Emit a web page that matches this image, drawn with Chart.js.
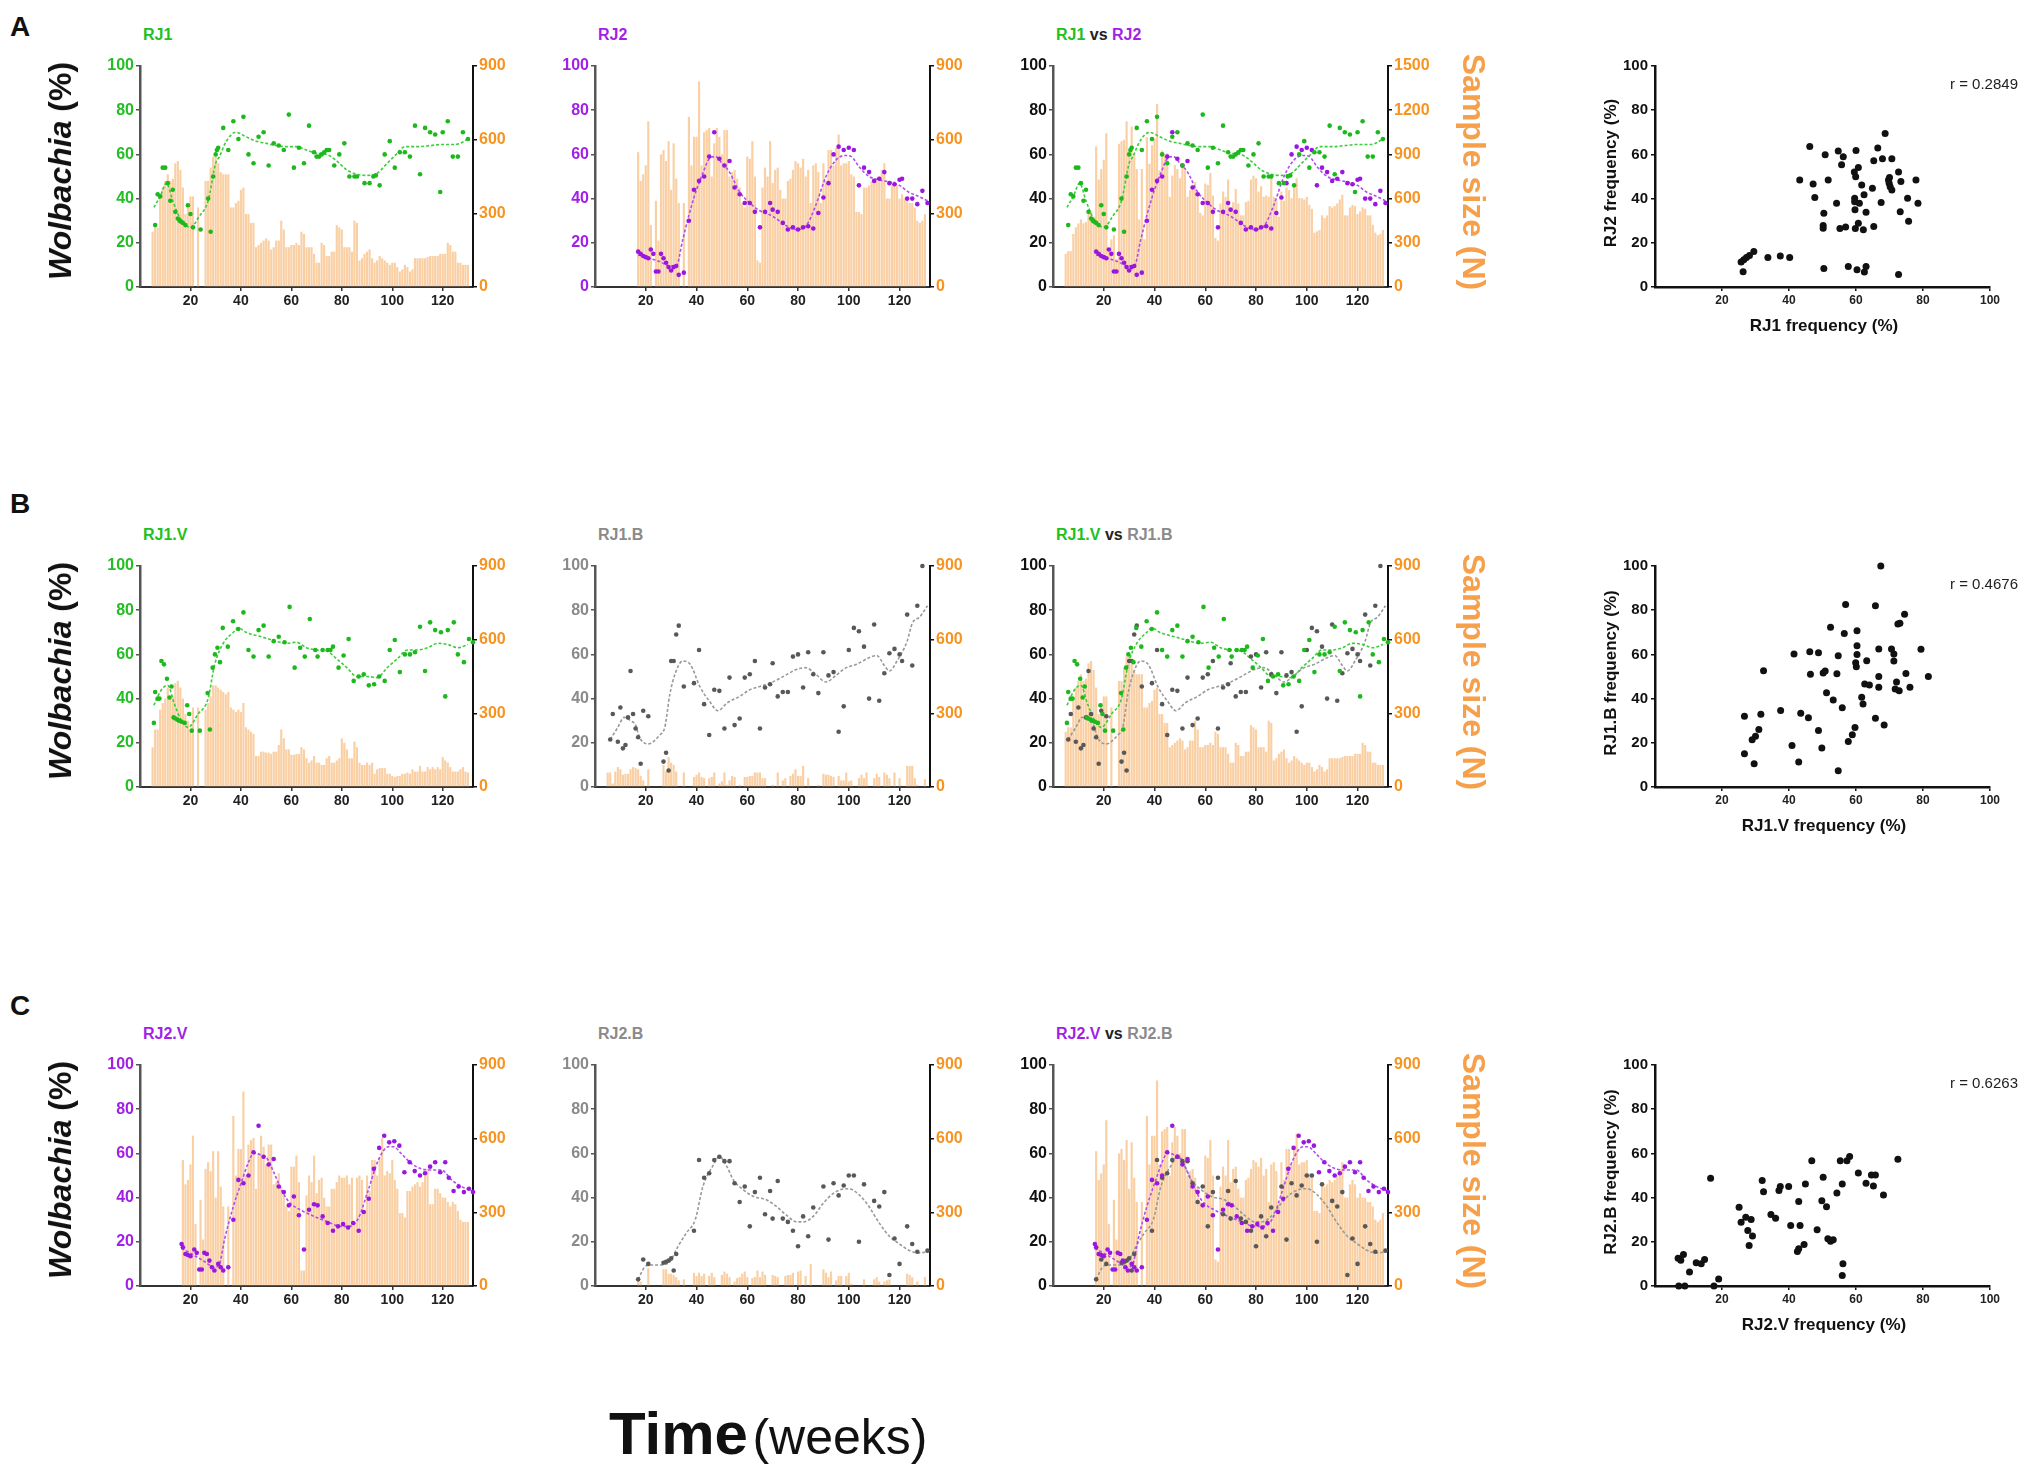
<!DOCTYPE html>
<html>
<head>
<meta charset="utf-8">
<title>Wolbachia frequency over time</title>
<script src="https://cdn.jsdelivr.net/npm/chart.js@4.4.1/dist/chart.umd.min.js"></script>
<style>
  html, body { margin: 0; padding: 0; background: #fff; }
  #fig { position: relative; width: 2033px; height: 1471px; overflow: hidden; background: #fff;
         font-family: 'Liberation Sans', Arial, Helvetica, sans-serif; }
  .txt { position: absolute; white-space: nowrap; line-height: 1; }
  .ccw { transform: translate(-50%, -50%) rotate(-90deg); }
  .cw { transform: translate(-50%, -50%) rotate(90deg); }
  .mid { transform: translate(-50%, -50%); }
</style>
</head>
<body>
<div id="fig"></div>
<script>
// weekly sample sizes (N), one value per week starting at the given week
const rj1Start = 5;
const rj1N = [
  225, 243, 243, 360, 405, 432, 459, 432, 441, 504,
  513, 477, 405, 297, 342, 369, 369, null, 324, null,
  null, 432, 432, 486, 531, 531, 504, 468, 459, 459,
  459, 324, 324, 342, 351, 396, 405, 297, 297, 261,
  261, 162, 171, 180, 189, 198, 189, 153, 162, 189,
  189, 270, 234, 162, 162, 171, 171, 180, 171, 225,
  216, 162, 162, 162, 135, 99, 99, 180, 171, 126,
  126, 144, 144, 252, 243, 234, 162, 162, 162, 144,
  270, 261, 108, 117, 135, 144, 153, 117, 99, 108,
  126, 117, 108, 99, 90, 99, 99, 81, 63, 72,
  90, 81, 63, 72, 117, 117, 117, 117, 117, 122,
  126, 126, 126, 126, 135, 135, 135, 180, 171, 144,
  144, 99, 99, 90, 90, 90
];
const rj1vN = [
  162, 234, 234, 315, 342, 360, 405, 360, 369, 423,
  432, 405, 360, 297, 270, 225, 324, null, 324, null,
  null, 315, 342, 369, 414, 414, 405, 396, 387, 378,
  387, 324, 315, 306, 315, 306, 342, 243, 234, 225,
  216, 126, 126, 144, 144, 140, 140, 135, 144, 144,
  171, 234, 198, 153, 153, 131, 131, 135, 135, 162,
  153, 117, 99, 108, 126, 99, 99, 90, 90, 117,
  126, 99, 99, 108, 117, 198, 180, 153, 117, 117,
  185, 162, 99, 90, 90, 99, 90, 99, 54, 72,
  77, 77, 77, 54, 54, 45, 41, 45, 45, 54,
  54, 59, 54, 72, 63, 63, 86, 63, 63, 81,
  72, 81, 72, 81, 72, 122, 108, 99, 81, 63,
  63, 63, 72, 81, 63, 59
];
const rj1bN = [
  59, 59, 14, 63, 81, 72, 50, 54, 54, 72,
  81, 77, 72, 45, 27, null, 72, null, null, null,
  null, null, 90, 63, 122, 99, 90, 63, null, null,
  59, null, null, null, 41, 50, 59, 41, 36, null,
  36, 41, 59, null, 14, 23, 59, 9, 27, 45,
  41, null, 9, null, 41, 41, 45, 45, 59, 59,
  59, 36, 36, null, null, 9, null, 59, null, 27,
  36, null, 45, 54, 72, 45, 45, 86, null, 36,
  null, null, null, 9, null, 54, 50, 50, 45, 41,
  null, 45, 27, 27, 59, 23, 27, null, null, 36,
  50, 36, 59, null, null, 36, 54, 41, null, 59,
  50, 36, null, 59, null, 36, null, null, 86, 86,
  86, 36, 9, null, null, 32
];
const rj2Start = 17;
const rj2N = [
  549, 432, 459, 495, 675, 252, null, 351, 189, 540,
  558, 513, 594, 396, 585, 441, 342, null, 342, null,
  693, 495, 612, 612, 837, 495, 630, 639, 648, 450,
  585, 648, 612, 540, 639, 639, 450, 468, 477, 441,
  405, 342, 324, 531, 522, 594, 450, 108, 99, 405,
  486, 450, 594, 423, 477, 486, 396, 360, 360, 432,
  441, 477, 513, 504, 486, 522, 450, 477, 342, 495,
  504, 468, 342, 504, 432, 558, 558, 495, 567, 621,
  495, 504, 504, 513, 459, 450, 306, 306, 297, 405,
  405, 414, 432, 423, 432, 450, 477, 504, 360, 360,
  414, 432, 414, 360, 378, 360, 360, 342, 342, 324,
  270, 261, 270, 297
];
const rj2vN = [
  513, 414, 432, 495, 612, 252, null, 351, 189, 477,
  504, 468, 549, 360, 549, 405, 324, null, 324, null,
  693, 450, 558, 558, 792, 450, 576, 594, 603, 396,
  540, 612, 567, 495, 576, 576, 414, 423, 459, 405,
  369, 324, 306, 486, 486, 531, 423, 63, 63, 369,
  450, 423, 531, 378, 432, 441, 360, 324, 324, 396,
  396, 423, 450, 441, 441, 450, 414, 441, 261, 441,
  450, 432, 297, 450, 387, 513, 513, 450, 522, 603,
  450, 468, 459, 513, 432, 396, 297, 297, 279, 387,
  387, 405, 414, 423, 405, 423, 450, 477, 333, 333,
  396, 396, 378, 360, 360, 342, 324, 342, 333, 306,
  270, 261, 261, 261
];
const rj2bN = [
  23, 18, null, null, 72, null, null, null, null, null,
  68, 68, 50, 50, 45, 36, 23, null, 27, null,
  null, null, 54, 41, 54, 41, 50, null, 41, 54,
  36, null, null, 45, 59, 50, 36, null, 18, 32,
  36, 50, 59, 36, null, 32, 36, 63, 36, 59,
  45, null, null, 45, 41, 36, null, null, 41, 45,
  45, 54, null, 59, 63, null, 41, null, 90, null,
  null, null, null, 68, 54, 36, 59, null, 23, 41,
  41, null, 41, 54, 9, null, null, null, null, 27,
  null, null, null, 27, 36, 18, null, 18, 23, 27,
  null, null, null, null, null, null, 50, 45, 36, null,
  18, null, null, 36
];

// Wolbachia frequency (%) per sampled week: [week, %]
const rj1Pct = [[6,28],[7,42],[8,41],[9,54],[10,54],[11,47],[12,39],[13,44],[14,34],[15,31],[15.7,30],[16.3,29.5],[17,29],[18,28],[19,37],[20,33],[21,27],[24,26],[27,40],[28,25],[29,50],[30,60],[30.5,62],[31,63],[33,72],[35,62],[37,75],[39,67],[41,77],[43,60],[45,56],[47,68],[49,70],[51,55],[53,65],[55,64],[57,62],[59,78],[61,54],[63,63],[65,56],[67,73],[69,61],[70,59],[71,59],[72,60],[73,61],[74,62],[75,62],[77,55],[79,60],[81,65],[83,50],[85,50],[86,50],[89,47],[91,47],[92.5,50],[93.5,50.5],[95,46],[97,60],[99,66],[101,54],[103,61],[105,61],[107,59],[109,73],[111,51],[113,72],[115,70],[117,69],[119,43],[120,70],[122,75],[124,59],[126,59],[128,70],[130,67]];
const rj2Pct = [[17,16],[18,15],[19,14],[20,13.5],[21,13],[22,17],[23,15],[24,7],[25,7],[26,15],[27,13],[28,11],[29,9],[30,7.5],[31,9],[32,9.5],[33,5.5],[35,6.5],[37,30],[39,44],[41,48],[43,50],[45,59],[47,70],[49,58],[51,55],[53,57],[55,45],[57,42],[59,38],[61,38],[63,34],[65,27],[67,34],[69,38],[70,35],[72,34],[74,29],[76,26],[78,27],[80,26],[82,27],[84,27.5],[86,26.5],[88,33.5],[90,40.5],[92,47],[94,60],[96,63.5],[98,62],[100,63],[102,62],[104,46],[106,54],[108,52],[110,48],[112,49],[114,52],[116,47],[118,46.5],[120,48.5],[121,49],[123,40],[125,40],[127,37.5],[129,43.5],[131,38]];
const rj1vPct = [[5.5,29],[6,43],[7,40],[7.7,40],[8.5,57],[9.5,55.5],[10.7,49],[11.7,40.5],[12.5,45.5],[13.3,31.5],[14,31],[14.8,30.5],[15.5,30],[16.5,29.5],[17.7,29],[18.7,37],[19.5,33],[20.5,25.5],[23.7,25.5],[26.8,42.5],[27.7,26],[28.8,54],[29.7,60],[30.7,63],[31.7,56.5],[32.8,72],[34.8,63.5],[36.9,75],[38.9,71.5],[41,79],[43,62],[45,59],[47,71],[49,73],[51,59],[53,66],[55,68],[57.3,65.5],[59.3,81.5],[61.3,54],[63.5,63],[65.3,59],[67.3,76],[69.5,62],[70.4,59],[72.4,62],[74.4,62],[75.5,62],[76.5,63.5],[78.7,54],[80.7,59.5],[82.7,67],[84.7,48],[86.7,50],[88.7,51],[90.7,46],[92.8,46.5],[94.8,50],[97,48],[99,62],[101,66.5],[103,52],[105,60],[107,60],[109,61],[111,72.5],[113,52.5],[115,74.5],[117,71],[119.3,70],[121,41],[122,71],[124.4,74.5],[126,60],[128.4,56.5],[130.4,67],[132,65.5]];
const rj1bPct = [[6,21.5],[7,33],[9,20.5],[10,36],[11,17.5],[12,19],[13,31.5],[14,52.5],[15,33],[16,26.5],[17,22.5],[18,10.5],[19,34.5],[21,32],[27,11.5],[28,15.5],[29,7.5],[30,57],[31,57],[32,69],[33,73],[35,45.5],[39,47],[41,62],[43,37.5],[45,23.5],[47,44],[49,43.5],[51,26.5],[53,49.5],[55,28],[57,31],[59,49.5],[61,51],[63,57],[65,26.5],[67,45],[69,46.5],[70,56],[72,41],[74,43],[76,43],[78,59],[80,60],[82,45],[84,61],[86,51],[88,42.5],[90,61],[92,50.5],[94,52],[96,25],[98,36.5],[100,62],[102,72],[104,70.5],[106,63.5],[108,40],[110,73.5],[112,39],[114,51.5],[116,60.5],[118,62.5],[120,60],[121,57],[123,78],[125,55],[127,82],[129,100]];
const rj2vPct = [[16.5,19],[17,17.5],[18,14.5],[19,14],[20,13.5],[21.5,16.5],[22.5,15],[23.5,7.5],[24.5,7.5],[25.5,15],[26.5,14.5],[27.5,11.5],[28.5,8.5],[29.5,7],[31,10],[32,8.5],[33,7],[35,8.5],[37,30],[39,48],[41,46.5],[43,50],[45,60.5],[47,72.5],[49,58.5],[51,55],[53,57.5],[55,45],[57,42.5],[59,36.5],[61,40.5],[63,32],[65,16.5],[67,34.5],[69,37],[70.4,36.5],[72.4,31.5],[74.4,28.5],[76.5,25],[78.5,27],[80.5,28],[82.5,26.5],[84.5,28.5],[86.7,25],[88.7,33.5],[90.7,39.5],[92.7,53],[94.8,62.5],[96.8,68],[98.8,65],[100.8,65.5],[102.8,63.5],[104.8,51.5],[106.9,56],[108.9,52],[111,50],[113,51],[115,54],[117,56],[119,51.5],[121,56],[122.4,49],[124.3,43],[126.3,45],[128.4,42.5],[130.4,44],[132,42.5]];
const rj2bPct = [[17,3],[19,12],[21,10],[27,10.5],[28,11],[29,11.5],[30,12.5],[31,7],[32,14.5],[39,25],[41,57],[43,49],[45,51],[47,57],[49,58.5],[51,56.5],[53,56.5],[55,46.5],[57,38],[59,45],[61,27],[63,42.5],[65,49],[67,32.5],[69,43],[70,30.5],[72,47.5],[74,30.5],[76,29],[78,25],[80,18],[82,31.5],[84,22.5],[86,35.5],[90,45],[92,21],[94,46.5],[96,41],[98,45.5],[100,50],[102,50],[104,20],[106,46],[110,38.5],[112,36],[114,42.5],[116,5],[118,21.5],[120,10],[123,27],[125,19],[127,15.5],[131,16]];

// dotted trend lines as drawn in the figure: [week, %]
const rj1Trend = [[5.5,36],[8,41],[10.5,47],[13,39],[15.5,32],[20,27],[23.5,32],[27,39],[30,56],[31.5,59],[34,65.5],[38,70],[42,68],[46,66],[50,65],[54,64],[58,63.5],[62,63.5],[66,62],[70,60.5],[74,60],[78,57],[82,53],[86,51],[90,50.5],[94,51.5],[98,56],[102,60.5],[105,63.5],[110,63.5],[115,64],[120,64.5],[125,64.5],[127,65],[130,67]];
const rj2Trend = [[17,14.5],[21.5,13],[25.5,11.5],[29.5,9.5],[32,9.5],[34.5,21],[37,32.5],[40,44],[42.5,51.5],[45,58],[47.5,59],[50,56],[53,52],[57,43],[61,38],[65,34.5],[70,32],[75,28],[79,26],[83,27.5],[87,37],[91,50],[95,57.5],[98.5,59.5],[101,59],[104,54.5],[108,50],[112,48.5],[116,47.5],[120,46],[123.5,43],[127.5,41],[131,39]];
const rj1vTrend = [[5.5,37],[8.5,44],[11,46],[13.5,38],[16,31],[19,27],[23,33],[27,40],[29.5,55],[33,65],[37,70],[39,72],[42,70],[48,68],[54,66],[58,65],[62,65.5],[66,63],[70,62],[74,61.5],[78,58],[82,54],[86,50],[90,50],[94,49.5],[98,54],[102,58],[106,62],[110,62],[114,63],[118,65],[122,64.5],[126,63],[130,64.5]];
const rj1bTrend = [[6,21.5],[9,27],[11.5,31.5],[14,30],[16,28],[17.5,22.5],[21,19.5],[25.5,23.5],[27.5,27],[29.5,42],[31.5,51],[34.5,57],[37.5,55.5],[41.5,45],[45,39],[48.5,34.5],[52,38],[57,41],[61,44],[65,45.5],[70,47.5],[75,50.5],[79,53],[83,54],[87,51],[91,47.5],[95,50.5],[99,54],[103,55.5],[108,58.5],[111,59.5],[114,55],[116,52.5],[119,57],[123,66],[125,74],[128,77],[131,82]];
const rj2vTrend = [[16.5,17],[20.5,14.5],[25,11.5],[29.5,8.5],[31.5,10],[33.5,21],[37,36],[40.5,48],[43,56],[45,60],[47.5,59.5],[50.5,57.5],[53,51.5],[56.5,42.5],[59.5,37.5],[63.5,34.5],[69,31.5],[74.5,29],[79.5,27],[83,27],[86.5,30.5],[90.5,43.5],[94.5,57],[98.5,63],[100.5,63],[103.5,60],[107.5,55.5],[111.5,53],[115.5,52.5],[119.5,52.5],[123.5,48],[127.5,45],[132,43]];
const rj2bTrend = [[17,3],[19.5,8.5],[21.5,9.5],[25.5,9.5],[29.5,11],[32.5,17.5],[36,24],[39.5,30],[42.5,45],[46.5,54.5],[49,58.5],[52,54],[54.5,48],[58.5,43.5],[62.5,40.5],[67.5,39],[71.5,36],[75.5,32],[79.5,29],[82,29],[86,31.5],[90,37.5],[94,42],[99,44],[101.5,43.5],[107,37.5],[112,28.5],[116,22.5],[120,19],[124,16],[128,15],[131,15.5]];

// paired weekly frequencies for the correlation panels: [x %, y %]
const rj1VsRj2 = [[25.7,11.3],[26.5,12.3],[27.3,13.4],[28.2,14.3],[29.5,16.1],[26.3,6.9],[33.7,13.4],[37.4,14],[40.2,13.4],[43.2,48.4],[46.2,63.6],[47.2,46.6],[47.7,40.5],[50.4,33.4],[50.2,27.8],[50.2,26.6],[50.4,8.4],[50.8,59.8],[51.7,48.4],[54.2,37.9],[54.7,61.5],[55.2,26.5],[55.7,55.3],[56.2,58.9],[56.9,27.1],[57.7,9.3],[59.5,52],[59.9,49.9],[59.6,40.2],[59.6,38.6],[59.7,34.9],[59.8,26.5],[60,61.8],[60.3,7.8],[60.7,54.1],[60.7,28.9],[61,37.9],[61.7,46.2],[62.2,25.9],[62.4,41.7],[62.5,6.8],[63,9.3],[63,33.8],[64.9,44.7],[65.3,57.1],[65.3,27.4],[66.5,62.9],[67.5,38.2],[67.9,58],[68.7,69.5],[69.7,48.4],[69.9,46.9],[70.2,45.4],[70.7,43.9],[70,49.6],[70.7,58],[72.7,52],[72.7,5.6],[73.2,34.1],[73.4,47.7],[75.4,40.2],[75.7,29.8],[77.9,48.4],[78.5,37.9]];
const rj1vVsRj1b = [[26.7,32],[26.7,15],[29,21.4],[30,23],[29.6,10.5],[31,26],[31.6,32.9],[32.4,52.6],[37.5,34.6],[40.9,18.8],[41.5,60.2],[42.9,11.3],[43.5,33.4],[45.8,31.3],[46.4,51],[46.2,61.2],[48.8,60.8],[48.8,25.6],[49.8,17.7],[50.2,51.6],[50.8,52.5],[51.2,42.6],[52.4,72.3],[53.2,39.4],[54.3,51.3],[54.7,59.4],[54.7,7.4],[55.9,35.9],[56.5,69.5],[56.9,82.6],[57.7,20.6],[58.9,23.6],[59.7,26.9],[59.9,56.2],[60.1,54.4],[60.3,70.7],[60.3,60],[60.3,63.9],[61.7,40.6],[62.1,37.6],[62.6,46.6],[63.2,57.1],[64,46.2],[65.8,31.1],[65.8,82],[66.8,62.4],[66.8,45.1],[66.8,50],[67.4,100],[68.4,28],[70.6,62.4],[71.3,60.2],[71.3,57],[71.7,44.4],[72.1,47.5],[72.9,43.6],[72.5,73.7],[73.1,74.1],[74.5,78.2],[74.9,51.4],[76.1,45.1],[79.4,62.3],[81.6,50]];
const rj2vVsRj2b = [[6.9,12.6],[7.7,11.6],[8.5,14.3],[7.1,0],[8.9,0],[10.3,6.3],[12.3,10.5],[13.8,10.1],[14.8,12],[16.6,48.7],[17.6,0],[19,3.2],[25.1,35.6],[25.7,28.9],[27.1,31.1],[27.7,25.1],[28.7,30.1],[28.1,18.3],[29.1,22.6],[32,47.7],[32.4,42.7],[34.6,32.3],[36,30.7],[37,43.2],[37.4,45],[39.9,45],[40.5,27.4],[42.5,15.6],[42.9,16.8],[42.9,38.2],[43.3,27.4],[44.5,18.8],[44.9,46.2],[46.8,56.7],[48.4,25.4],[49.8,38.6],[50.2,49.2],[51.2,35.9],[51.6,21.4],[52.4,20.2],[53.2,20.9],[54.3,42.1],[55.3,56.7],[55.9,46.2],[56.1,10.1],[55.9,4.8],[57.3,56.7],[58.1,58.6],[60.7,51.1],[63,46.5],[64.6,50.2],[65.8,50.2],[65.2,45.3],[68.2,41.2],[72.5,57.4]];

const weekTicks = [20, 40, 60, 80, 100, 120];
const freqTicks = [20, 40, 60, 80, 100];

// layout of the plot areas (pixels)
const WEEK_MAX = 132;
const rows = [{ top: 66, bottom: 287 }, { top: 566, bottom: 787 }, { top: 1065, bottom: 1286 }];
const cols = [[140, 473], [595, 930], [1053, 1388]];
const scatterCol = [1655, 1990];

const GREEN = '#22bf22', GREEN_PT = '#1cb81c', GREEN_LINE = '#3ccd3c';
const PURPLE = '#a21fe6', PURPLE_PT = '#9a17e0', PURPLE_LINE = '#b24df0';
const GRAY = '#8a8a8a', GRAY_PT = '#585858', GRAY_LINE = '#999999';
const ORANGE = '#f7931e', BAR = '#f9cfa3';

Chart.defaults.font.family = "'Liberation Sans', Arial, Helvetica, sans-serif";
Chart.defaults.animation = false;
Chart.defaults.responsive = false;
Chart.defaults.plugins.legend.display = false;
Chart.defaults.plugins.tooltip.enabled = false;

const fig = document.getElementById('fig');
const plain = (v) => String(v);

function toXY(pairs) {
  return pairs.map(([x, y]) => ({ x: x, y: y }));
}

function toBars(start, values) {
  return values.map((v, i) => ({ x: start + i, y: v })).filter((p) => p.y !== null);
}

// total sample size per week over several series
function addBars(list) {
  const total = {};
  list.forEach(([start, values]) => {
    values.forEach((v, i) => {
      if (v !== null) total[start + i] = (total[start + i] || 0) + v;
    });
  });
  return Object.keys(total).map(Number).sort((a, b) => a - b).map((w) => ({ x: w, y: total[w] }));
}

function makeCanvas(left, top, w, h) {
  const c = document.createElement('canvas');
  c.width = w;
  c.height = h;
  c.style.cssText = `position:absolute;left:${left}px;top:${top}px;width:${w}px;height:${h}px;`;
  fig.appendChild(c);
  return c;
}

function addText(html, left, top, style, cls) {
  const d = document.createElement('div');
  d.className = 'txt' + (cls ? ' ' + cls : '');
  d.style.cssText = `left:${left}px;top:${top}px;` + style;
  d.innerHTML = html;
  fig.appendChild(d);
}

function tickGrid(color) {
  return { display: true, drawOnChartArea: false, drawTicks: true, tickLength: 4, color: color, lineWidth: 1.5, offset: false };
}

function timePanel(col, row, opt) {
  const padL = 70, padR = 70, padT = 15, padB = 45;
  const w = col[1] - col[0] + padL + padR;
  const h = row.bottom - row.top + padT + padB;
  const canvas = makeCanvas(col[0] - padL, row.top - padT, w, h);

  const datasets = [{
    type: 'bar',
    data: opt.bars,
    yAxisID: 'y2',
    backgroundColor: BAR,
    barPercentage: 0.85,
    categoryPercentage: 1,
    order: 3,
  }];
  opt.series.forEach((s) => {
    datasets.push({
      type: 'line',
      data: toXY(s.trend),
      yAxisID: 'y',
      borderColor: s.line,
      borderWidth: 1.6,
      borderDash: [3, 2],
      pointRadius: 0,
      cubicInterpolationMode: 'monotone',
      fill: false,
      order: 2,
    });
    datasets.push({
      type: 'scatter',
      data: toXY(s.pts),
      yAxisID: 'y',
      backgroundColor: s.pt,
      borderWidth: 0,
      pointRadius: 2.3,
      showLine: false,
      clip: false,
      order: 1,
    });
  });

  new Chart(canvas, {
    type: 'bar',
    data: { datasets: datasets },
    options: {
      layout: { padding: { top: padT, left: 0, right: 0, bottom: 0 } },
      scales: {
        x: {
          type: 'linear',
          min: 0,
          max: WEEK_MAX,
          offset: false,
          afterBuildTicks: (s) => { s.ticks = weekTicks.map((v) => ({ value: v })); },
          afterFit: (s) => { s.height = padB; },
          grid: tickGrid('#333'),
          border: { display: true, color: '#333', width: 2 },
          ticks: { color: '#222', font: { size: 14, weight: 'bold' }, padding: 2, maxRotation: 0, autoSkip: false, callback: plain },
        },
        y: {
          position: 'left',
          min: 0,
          max: 100,
          afterFit: (s) => { s.width = padL; },
          grid: tickGrid('#555'),
          border: { display: true, color: '#555', width: 2.5 },
          ticks: { stepSize: 20, color: opt.leftColor, font: { size: 16, weight: 'bold' }, padding: 2, callback: plain },
        },
        y2: {
          position: 'right',
          min: 0,
          max: opt.nMax,
          afterFit: (s) => { s.width = padR; },
          grid: tickGrid('#111'),
          border: { display: true, color: '#111', width: 2 },
          ticks: { stepSize: 300, color: ORANGE, font: { size: 16, weight: 'bold' }, padding: 2, callback: plain },
        },
      },
    },
  });
}

function scatterPanel(row, pts) {
  const padL = 60, padR = 30, padT = 15, padB = 40;
  const w = scatterCol[1] - scatterCol[0] + padL + padR;
  const h = row.bottom - row.top + padT + padB;
  const canvas = makeCanvas(scatterCol[0] - padL, row.top - padT, w, h);
  new Chart(canvas, {
    type: 'scatter',
    data: {
      datasets: [{ data: toXY(pts), backgroundColor: '#111', borderWidth: 0, pointRadius: 3.5, clip: false }],
    },
    options: {
      layout: { padding: { top: padT, left: 0, right: padR, bottom: 0 } },
      scales: {
        x: {
          type: 'linear',
          min: 0,
          max: 100,
          afterBuildTicks: (s) => { s.ticks = freqTicks.map((v) => ({ value: v })); },
          afterFit: (s) => { s.height = padB; },
          grid: tickGrid('#111'),
          border: { display: true, color: '#111', width: 2.5 },
          ticks: { color: '#222', font: { size: 12, weight: 'bold' }, padding: 2, maxRotation: 0, autoSkip: false, callback: plain },
        },
        y: {
          min: 0,
          max: 100,
          afterFit: (s) => { s.width = padL; },
          grid: tickGrid('#111'),
          border: { display: true, color: '#111', width: 2.5 },
          ticks: { stepSize: 20, color: '#111', font: { size: 15, weight: 'bold' }, padding: 3, callback: plain },
        },
      },
    },
  });
}

const rj1Bars = toBars(rj1Start, rj1N);
const rj2Bars = toBars(rj2Start, rj2N);
const rj12Bars = addBars([[rj1Start, rj1N], [rj2Start, rj2N]]);

const sRJ1 = { pts: rj1Pct, trend: rj1Trend, pt: GREEN_PT, line: GREEN_LINE };
const sRJ2 = { pts: rj2Pct, trend: rj2Trend, pt: PURPLE_PT, line: PURPLE_LINE };
const sRJ1V = { pts: rj1vPct, trend: rj1vTrend, pt: GREEN_PT, line: GREEN_LINE };
const sRJ1B = { pts: rj1bPct, trend: rj1bTrend, pt: GRAY_PT, line: GRAY_LINE };
const sRJ2V = { pts: rj2vPct, trend: rj2vTrend, pt: PURPLE_PT, line: PURPLE_LINE };
const sRJ2B = { pts: rj2bPct, trend: rj2bTrend, pt: GRAY_PT, line: GRAY_LINE };

// row A
timePanel(cols[0], rows[0], { bars: rj1Bars, series: [sRJ1], leftColor: GREEN, nMax: 900 });
timePanel(cols[1], rows[0], { bars: rj2Bars, series: [sRJ2], leftColor: PURPLE, nMax: 900 });
timePanel(cols[2], rows[0], { bars: rj12Bars, series: [sRJ1, sRJ2], leftColor: '#111', nMax: 1500 });
scatterPanel(rows[0], rj1VsRj2);
// row B
timePanel(cols[0], rows[1], { bars: toBars(rj1Start, rj1vN), series: [sRJ1V], leftColor: GREEN, nMax: 900 });
timePanel(cols[1], rows[1], { bars: toBars(rj1Start, rj1bN), series: [sRJ1B], leftColor: GRAY, nMax: 900 });
timePanel(cols[2], rows[1], { bars: rj1Bars, series: [sRJ1V, sRJ1B], leftColor: '#111', nMax: 900 });
scatterPanel(rows[1], rj1vVsRj1b);
// row C
timePanel(cols[0], rows[2], { bars: toBars(rj2Start, rj2vN), series: [sRJ2V], leftColor: PURPLE, nMax: 900 });
timePanel(cols[1], rows[2], { bars: toBars(rj2Start, rj2bN), series: [sRJ2B], leftColor: GRAY, nMax: 900 });
timePanel(cols[2], rows[2], { bars: rj2Bars, series: [sRJ2V, sRJ2B], leftColor: '#111', nMax: 900 });
scatterPanel(rows[2], rj2vVsRj2b);

// texts
const g = (t) => `<span style="color:${GREEN}">${t}</span>`;
const p = (t) => `<span style="color:${PURPLE}">${t}</span>`;
const k = (t) => `<span style="color:${GRAY}">${t}</span>`;
const titles = [
  [g('RJ1'), p('RJ2'), g('RJ1') + ' vs ' + p('RJ2')],
  [g('RJ1.V'), k('RJ1.B'), g('RJ1.V') + ' vs ' + k('RJ1.B')],
  [p('RJ2.V'), k('RJ2.B'), p('RJ2.V') + ' vs ' + k('RJ2.B')],
];
const letters = [['A', 27], ['B', 504], ['C', 1006]];
const scatterLabels = [
  ['RJ1 frequency (%)', 'RJ2 frequency (%)', 'r = 0.2849'],
  ['RJ1.V frequency (%)', 'RJ1.B frequency (%)', 'r = 0.4676'],
  ['RJ2.V frequency (%)', 'RJ2.B frequency (%)', 'r = 0.6263'],
];

rows.forEach((row, i) => {
  const mid = (row.top + row.bottom) / 2;
  addText(letters[i][0], 10, letters[i][1] - 14, 'font-size:28px;font-weight:bold;color:#111;');
  titles[i].forEach((t, j) => {
    addText(t, cols[j][0] + 3, row.top - 39, 'font-size:16px;font-weight:bold;color:#222;');
  });
  addText('<i>Wolbachia</i> (%)', 60, mid - 6, 'font-size:32px;font-weight:bold;color:#111;', 'ccw');
  addText('Sample size (N)', 1474, mid - 5, 'font-size:32px;font-weight:bold;color:#f7a04c;', 'cw');
  addText(scatterLabels[i][0], 1824, row.bottom + 38, 'font-size:17px;font-weight:bold;color:#111;', 'mid');
  addText(scatterLabels[i][1], 1610, mid - 4, 'font-size:17px;font-weight:bold;color:#111;', 'ccw');
  addText(scatterLabels[i][2], 1950, row.top + 10, 'font-size:15px;color:#222;');
});

addText('<b style="font-size:60px">Time</b>&nbsp;<span style="font-size:50px">(weeks)</span>', 609, 1404, 'color:#111;');
</script>
</body>
</html>
